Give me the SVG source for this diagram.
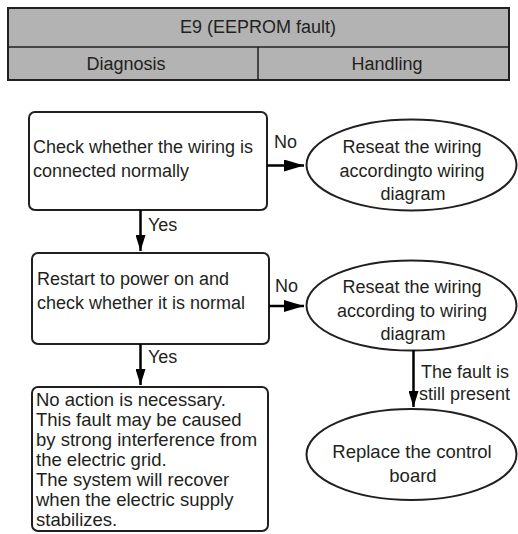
<svg xmlns="http://www.w3.org/2000/svg" width="518" height="534" viewBox="0 0 518 534">
<style>
text{font-family:"Liberation Sans",Arial,sans-serif;font-size:18px;fill:#231f20}
.c{text-anchor:middle}
.big{font-size:18.5px}
.hdr{fill:#b3b3b3;stroke:#231f20;stroke-width:2}
.box{fill:#fff;stroke:#231f20;stroke-width:2}
.conn{stroke:#000;stroke-width:2.5;fill:none}
</style>
<defs>
<marker id="ah" markerUnits="userSpaceOnUse" markerWidth="20" markerHeight="12" refX="20" refY="6" orient="auto">
<path d="M0,0 L20,6 L0,12 Z" fill="#000"/>
</marker>
<marker id="av" markerUnits="userSpaceOnUse" markerWidth="16" markerHeight="10" refX="16" refY="5" orient="auto">
<path d="M0,0 L16,5 L0,10 Z" fill="#000"/>
</marker>
</defs>
<g id="header">
<rect class="hdr" x="8" y="8" width="501" height="72"/>
<line x1="8" y1="47" x2="509" y2="47" stroke="#231f20" stroke-width="1.5"/>
<line x1="258" y1="47" x2="258" y2="80" stroke="#231f20" stroke-width="1.5"/>
<text class="c" x="258" y="33">E9 (EEPROM fault)</text>
<text class="c" x="126" y="70">Diagnosis</text>
<text class="c" x="387" y="70">Handling</text>
</g>
<g id="check-wiring">
<rect class="box" x="29" y="112" width="238" height="98" rx="6"/>
<text x="33" y="153">Check whether the wiring is</text>
<text x="33" y="177">connected normally</text>
</g>
<g id="reseat-1">
<ellipse class="box" cx="411.5" cy="165" rx="105" ry="45.5"/>
<text class="c" x="412" y="153">Reseat the wiring</text>
<text class="c" x="412" y="176.5">accordingto wiring</text>
<text class="c" x="413" y="200">diagram</text>
</g>
<g id="restart">
<rect class="box" x="32" y="253" width="237" height="91" rx="6"/>
<text x="37" y="285">Restart to power on and</text>
<text x="37" y="309">check whether it is normal</text>
</g>
<g id="reseat-2">
<ellipse class="box" cx="411.5" cy="305.5" rx="105" ry="45"/>
<text class="c" x="412" y="293">Reseat the wiring</text>
<text class="c" x="412" y="316.5">according to wiring</text>
<text class="c" x="413" y="340">diagram</text>
</g>
<g id="no-action">
<rect class="box" x="32" y="387" width="236" height="144" rx="6"/>
<text class="big" x="36" y="406">No action is necessary.</text>
<text class="big" x="36" y="426">This fault may be caused</text>
<text class="big" x="36" y="446">by strong interference from</text>
<text class="big" x="36" y="466">the electric grid.</text>
<text class="big" x="36" y="486">The system will recover</text>
<text class="big" x="36" y="506">when the electric supply</text>
<text class="big" x="36" y="526">stabilizes.</text>
</g>
<g id="replace-board">
<ellipse class="box" cx="411.5" cy="454.5" rx="105" ry="45.5"/>
<text class="c big" x="412" y="458">Replace the control</text>
<text class="c big" x="413" y="481.5">board</text>
</g>
<g id="connectors">
<line class="conn" x1="267" y1="165.5" x2="304" y2="165.5" marker-end="url(#ah)"/>
<text x="274" y="148">No</text>
<line class="conn" x1="140.5" y1="210" x2="140.5" y2="251" marker-end="url(#av)"/>
<text x="148" y="231">Yes</text>
<line class="conn" x1="269" y1="306" x2="304" y2="306" marker-end="url(#ah)"/>
<text x="275" y="292">No</text>
<line class="conn" x1="140.5" y1="344" x2="140.5" y2="385" marker-end="url(#av)"/>
<text x="148" y="363">Yes</text>
<line class="conn" x1="413.5" y1="350" x2="413.5" y2="407" marker-end="url(#av)"/>
<text x="421" y="378">The fault is</text>
<text x="419" y="400">still present</text>
</g>
</svg>
